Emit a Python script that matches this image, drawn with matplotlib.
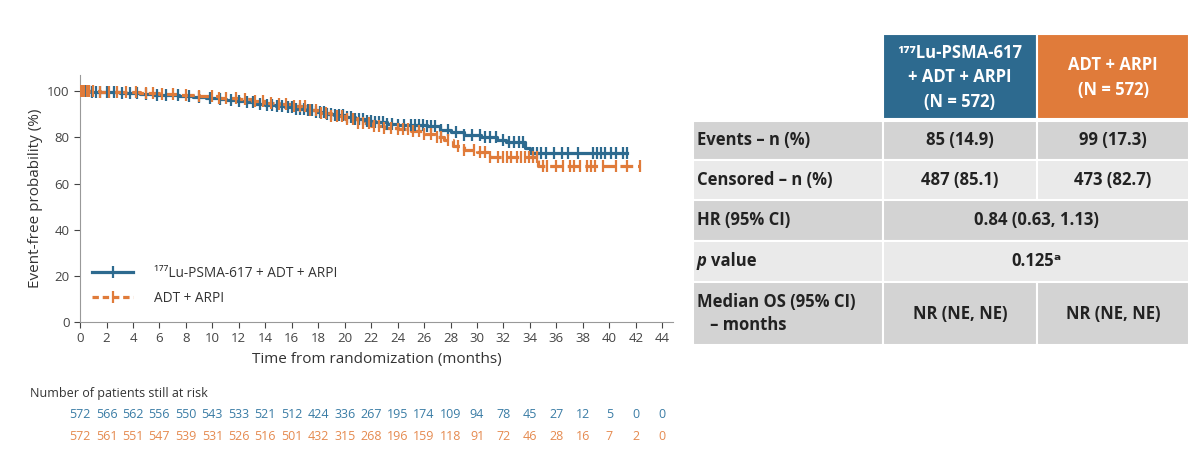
import numpy as np
import matplotlib
matplotlib.use("Agg")
import matplotlib.pyplot as plt
from matplotlib.patches import Rectangle
from matplotlib.lines import Line2D
from matplotlib.transforms import blended_transform_factory

plt.rcParams["font.family"] = ["Open Sans", "DejaVu Sans"]

BLUE = "#2D6A8F"
ORANGE = "#E07B3A"
BLUE_TXT = "#3A7CA5"
ORANGE_TXT = "#E58A4F"
GRAY = "#444444"

# ── KM step knots (time in months, event-free %) ──
LU_T = [0, 0.8, 2.0, 3.0, 4.5, 5.5, 6.5, 7.5, 8.5, 9.5, 10.5, 11.0, 11.8, 12.5,
        13.2, 14.0, 14.8, 15.5, 16.2, 17.0, 17.8, 18.5, 19.2, 20.0, 20.8, 21.5,
        22.3, 23.2, 24.0, 26.2, 27.2, 28.0, 29.0, 30.3, 31.5, 32.2, 33.6, 34.0]
LU_S = [100, 99.8, 99.6, 99.4, 99.0, 98.6, 98.3, 98.0, 97.7, 97.3, 96.8, 96.3,
        95.8, 95.3, 94.7, 94.2, 93.6, 93.0, 92.4, 91.7, 91.0, 90.3, 89.6, 88.8,
        88.0, 87.3, 86.6, 86.0, 85.6, 84.8, 83.2, 82.2, 81.2, 80.0, 79.0, 78.0,
        75.6, 73.3]
LU_END = 41.3

CTRL_T = [0, 1.5, 3.0, 4.5, 6.0, 7.5, 9.0, 10.5, 12.0, 13.0, 14.0, 15.0, 16.0,
          17.3, 18.0, 19.0, 20.0, 21.0, 22.0, 23.0, 24.0, 25.0, 26.0, 26.8,
          27.5, 28.2, 29.0, 30.0, 31.0, 34.6]
CTRL_S = [100, 99.8, 99.5, 99.1, 98.7, 98.3, 97.8, 97.3, 96.5, 95.8, 95.0,
          94.3, 93.6, 92.0, 90.5, 89.2, 87.8, 86.3, 85.0, 84.3, 83.5, 82.6,
          81.3, 80.0, 78.8, 76.2, 74.5, 73.6, 71.6, 67.5]
CTRL_END = 42.3

LU_CENSOR = [0.1, 0.2, 0.3, 0.4, 0.5, 0.6, 0.7, 0.9, 1.2, 1.5, 2.0, 2.6, 3.2,
             3.8, 4.3, 5.0, 5.8, 6.5, 7.4, 8.2, 9.0, 9.8, 10.6, 11.4, 12.0,
             12.6, 13.1, 13.6, 14.1, 14.5, 14.9, 15.3, 15.7, 16.0, 16.3, 16.6,
             16.9, 17.2, 17.5, 17.8, 18.1, 18.4, 18.7, 19.0, 19.3, 19.6, 19.9,
             20.2, 20.5, 20.8, 21.1, 21.4, 21.7, 22.0, 22.3, 22.6, 22.9, 23.2,
             23.6, 24.0, 24.5, 25.0, 25.3, 25.6, 25.9, 26.2, 26.5, 26.8, 27.3,
             27.8, 28.4, 29.0, 29.6, 30.2, 30.6, 31.0, 31.4, 32.0, 32.4, 32.8,
             33.2, 33.5, 34.2, 34.5, 34.8, 35.2, 35.8, 36.4, 36.9, 37.6, 38.8,
             39.1, 39.4, 39.7, 40.1, 40.5, 41.0, 41.3]
CTRL_CENSOR = [0.1, 0.2, 0.3, 0.5, 0.7, 1.0, 1.5, 2.2, 2.8, 3.5, 4.2, 5.0, 5.5,
               6.2, 7.0, 8.0, 9.0, 10.0, 10.5, 11.0, 11.8, 12.5, 13.2, 13.8,
               14.4, 15.0, 15.6, 16.2, 16.6, 17.0, 17.4, 17.8, 18.2, 18.6, 19.0,
               19.4, 19.8, 20.2, 20.6, 21.0, 21.4, 21.8, 22.2, 22.6, 23.0, 23.5,
               24.0, 24.4, 24.8, 25.2, 25.6, 26.0, 26.5, 27.0, 27.3, 27.8, 28.6,
               29.0, 29.8, 30.2, 30.6, 31.0, 31.6, 32.0, 32.3, 32.6, 33.0, 33.3,
               33.6, 33.9, 34.2, 34.5, 35.0, 35.3, 36.0, 36.5, 37.0, 37.3, 37.8,
               38.3, 38.6, 38.9, 39.5, 40.5, 41.3, 42.3]

MONTHS = list(range(0, 45, 2))
RISK_LU = [572, 566, 562, 556, 550, 543, 533, 521, 512, 424, 336, 267, 195,
           174, 109, 94, 78, 45, 27, 12, 5, 0, 0]
RISK_CTRL = [572, 561, 551, 547, 539, 531, 526, 516, 501, 432, 315, 268, 196,
             159, 118, 91, 72, 46, 28, 16, 7, 2, 0]

LU_NAME = "¹⁷⁷Lu-PSMA-617 + ADT + ARPI"
CTRL_NAME = "ADT + ARPI"

# ── summary table ──
HEADERS = ["¹⁷⁷Lu-PSMA-617\n+ ADT + ARPI\n(N = 572)", "ADT + ARPI\n(N = 572)"]
ROW_LABELS = ["Events – n (%)", "Censored – n (%)", "HR (95% CI)", "p value",
              "Median OS (95% CI)\n   – months"]
COL_LU = ["85 (14.9)", "487 (85.1)", None, None, "NR (NE, NE)"]
COL_CTRL = ["99 (17.3)", "473 (82.7)", None, None, "NR (NE, NE)"]
MERGED = {2: "0.84 (0.63, 1.13)", 3: "0.125ᵃ"}


def step_value(t, s, x):
    idx = np.searchsorted(t, x, side="right") - 1
    return np.asarray(s)[idx]


fig = plt.figure(figsize=(12, 4.7), dpi=100)
ax = fig.add_axes([0.0667, 0.315, 0.494, 0.525])

for t, s, end, cens, col, ls in [
        (LU_T, LU_S, LU_END, LU_CENSOR, BLUE, "-"),
        (CTRL_T, CTRL_S, CTRL_END, CTRL_CENSOR, ORANGE, (0, (4, 1.5)))]:
    tt = list(t) + [end]
    ss = list(s) + [s[-1]]
    ax.step(tt, ss, where="post", color=col, lw=2.3, ls=ls, zorder=3)
    ax.plot(cens, step_value(t, s, cens), ls="none", marker="|",
            ms=8, mew=1.6, color=col, zorder=4)

ax.set_xlim(0, 44.8)
ax.set_ylim(0, 107)
ax.set_xticks(MONTHS)
ax.set_yticks(range(0, 101, 20))
ax.tick_params(labelsize=9.5, colors=GRAY, length=4, width=0.8)
for sp in ["top", "right"]:
    ax.spines[sp].set_visible(False)
for sp in ["left", "bottom"]:
    ax.spines[sp].set_color("#999999")
ax.set_xlabel("Time from randomization (months)", fontsize=11, color="#333333",
              labelpad=5)
ax.set_ylabel("Event-free probability (%)", fontsize=11, color="#333333",
              labelpad=3)

handles = [Line2D([], [], color=BLUE, lw=2.3, marker="|", ms=8, mew=1.6),
           Line2D([], [], color=ORANGE, lw=2.3, ls=(0, (2, 1.2)), marker="|",
                  ms=8, mew=1.6)]
ax.legend(handles, [LU_NAME, CTRL_NAME], loc="lower left",
          bbox_to_anchor=(0.0, 0.015), frameon=False, fontsize=9.8,
          handlelength=3.0, handletextpad=1.5, labelspacing=0.75,
          labelcolor="#333333")

# at-risk numbers
tr = blended_transform_factory(ax.transData, fig.transFigure)
fig.text(30 / 1200, 1 - 394 / 470, "Number of patients still at risk",
         fontsize=9, color="#333333", va="center")
for m, a, b in zip(MONTHS, RISK_LU, RISK_CTRL):
    ax.text(m, 1 - 415 / 470, str(a), transform=tr, ha="center", va="center",
            fontsize=9, color=BLUE_TXT, clip_on=False)
    ax.text(m, 1 - 436 / 470, str(b), transform=tr, ha="center", va="center",
            fontsize=9, color=ORANGE_TXT, clip_on=False)

# table drawn in pixel coordinates
tab = fig.add_axes([0, 0, 1, 1])
tab.set_xlim(0, 1200)
tab.set_ylim(470, 0)
tab.axis("off")

x_edges = [693, 883, 1037, 1189]
y_head = (34, 119)
y_rows = [121, 160, 200, 241, 282, 345]
row_fc = ["#D3D3D3", "#EAEAEA", "#D3D3D3", "#EAEAEA", "#D3D3D3"]
bold = dict(fontweight="bold", fontsize=12, color="#222222", va="center")

for j, (txt, fc) in enumerate(zip(HEADERS, [BLUE, ORANGE])):
    x0, x1 = x_edges[j + 1], x_edges[j + 2]
    tab.add_patch(Rectangle((x0, y_head[0]), x1 - x0, y_head[1] - y_head[0],
                            facecolor=fc, edgecolor="white", lw=1.5))
    tab.text((x0 + x1) / 2, sum(y_head) / 2 + 1, txt, ha="center", va="center",
             color="white", fontweight="bold", fontsize=12, linespacing=1.45)

for i, lab in enumerate(ROW_LABELS):
    y0, y1 = y_rows[i], y_rows[i + 1]
    yc = (y0 + y1) / 2
    for j in range(3):
        if i in MERGED and j == 2:
            continue
        x0 = x_edges[j]
        x1 = x_edges[3] if (i in MERGED and j == 1) else x_edges[j + 1]
        tab.add_patch(Rectangle((x0, y0), x1 - x0, y1 - y0,
                                facecolor=row_fc[i], edgecolor="white", lw=1.5))
    if lab.startswith("p "):
        tab.text(697, yc, "p", ha="left", style="italic", **bold)
        tab.text(711, yc, "value", ha="left", **bold)
    else:
        tab.text(697, yc, lab, ha="left", linespacing=1.4, **bold)
    if i in MERGED:
        tab.text((x_edges[1] + x_edges[3]) / 2, yc, MERGED[i], ha="center", **bold)
    else:
        tab.text((x_edges[1] + x_edges[2]) / 2, yc, COL_LU[i], ha="center", **bold)
        tab.text((x_edges[2] + x_edges[3]) / 2, yc, COL_CTRL[i], ha="center", **bold)

fig.savefig("out.png", dpi=100, facecolor="white")
